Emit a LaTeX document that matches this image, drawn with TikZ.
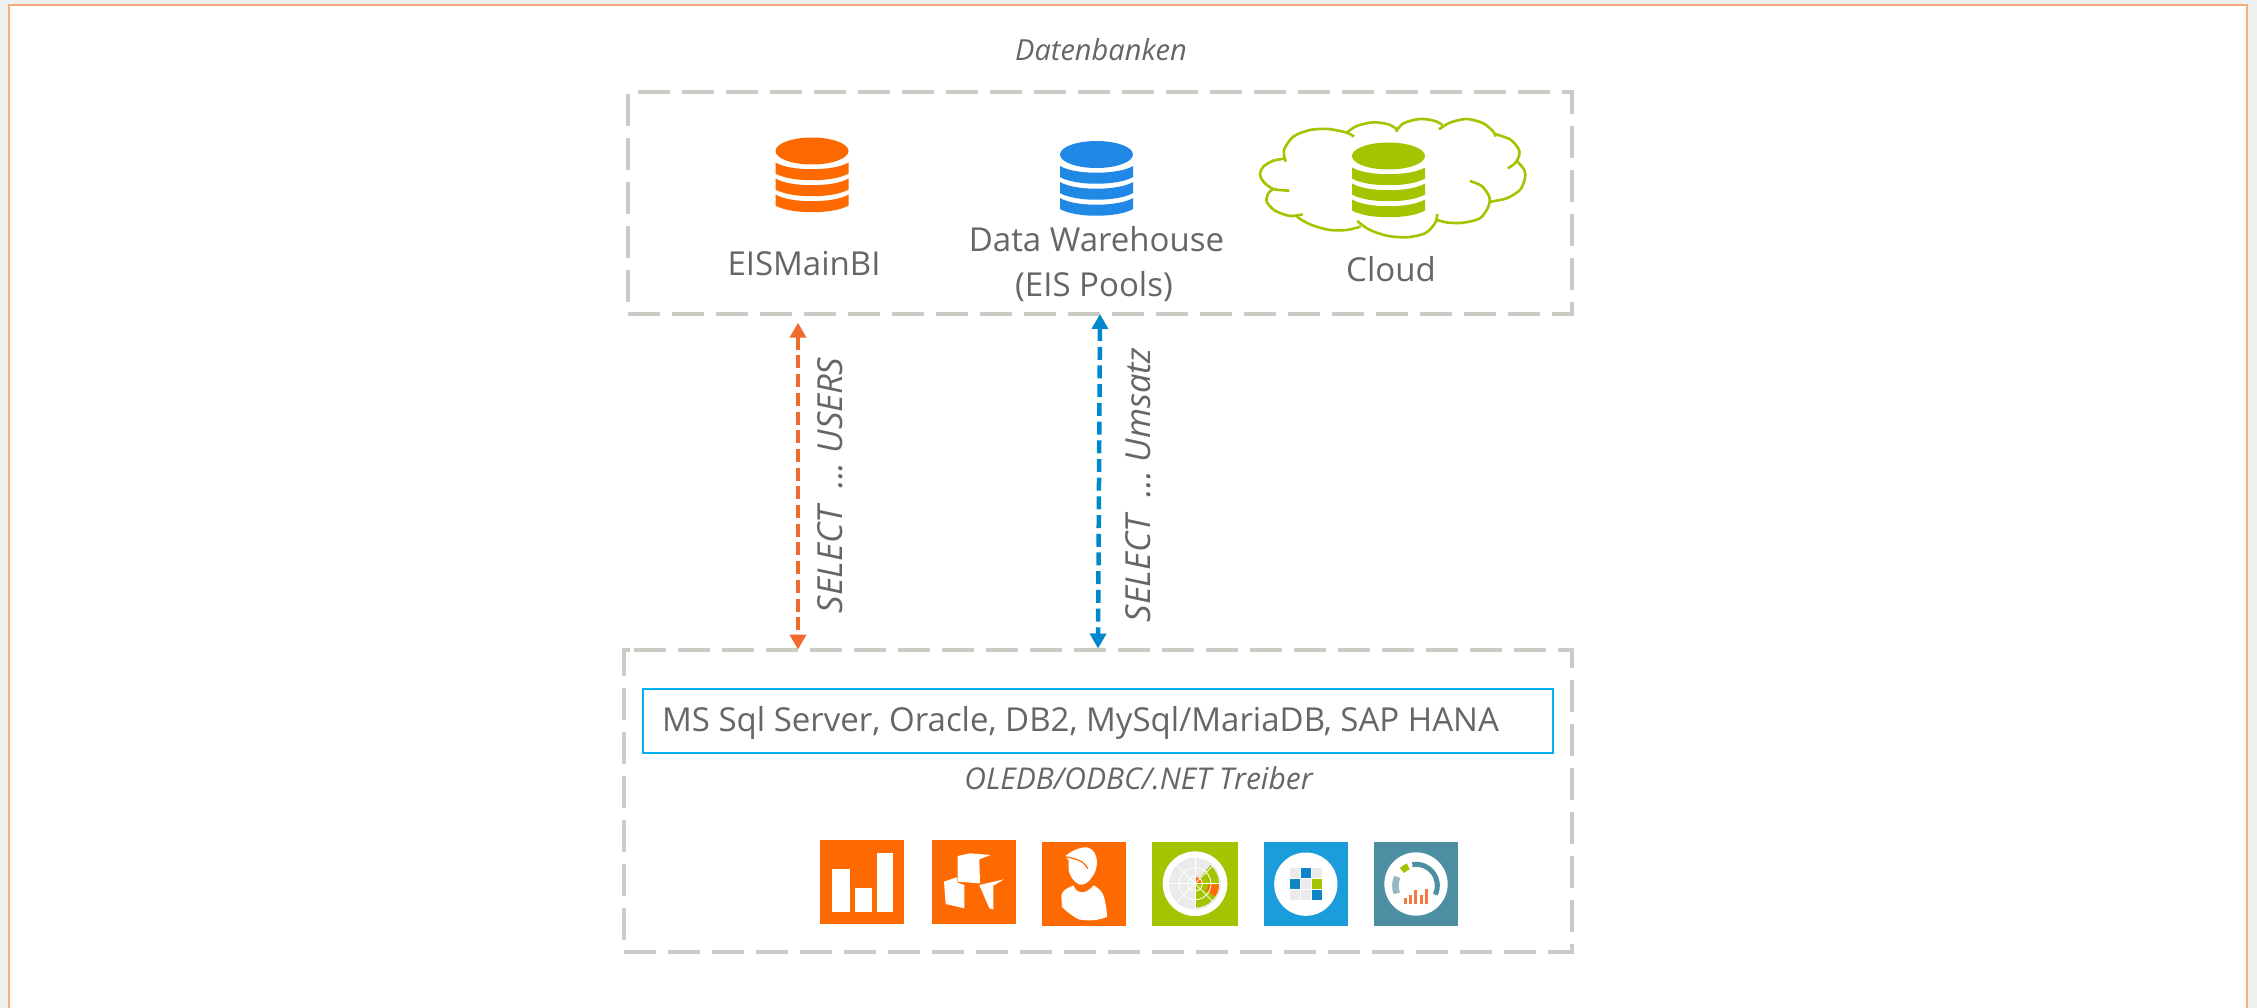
\documentclass[tikz,border=0pt]{standalone}
\usepackage{fontspec}
\setmainfont{Open Sans}
\usetikzlibrary{arrows.meta,calc}
\definecolor{pagegrey}{HTML}{EEF0F0}
\definecolor{frameor}{HTML}{F6AE7C}
\definecolor{boxgrey}{HTML}{CBCBC6}
\definecolor{txt}{HTML}{666666}
\definecolor{icor}{HTML}{FF6A00}
\definecolor{icgr}{HTML}{A4C400}
\definecolor{icbl}{HTML}{1B9DDB}
\definecolor{icte}{HTML}{4E8EA2}
\definecolor{dbbl}{HTML}{2288E6}
\definecolor{arror}{HTML}{F26B2E}
\definecolor{arrbl}{HTML}{0088CC}
\definecolor{cellbl}{HTML}{0F85C8}
\definecolor{cellgr}{HTML}{EBEBEB}
\definecolor{lteal}{HTML}{93B9C6}
\definecolor{baror}{HTML}{F47B3F}
\definecolor{hsblue}{HTML}{00B0F0}
\tikzset{
  dbzone/.style={draw=none,inner sep=0pt,outer sep=0pt},
  dashline/.style={draw=boxgrey,line width=4pt,dash pattern=on 32pt off 12pt},
  lab/.style={text=txt,inner sep=0pt,anchor=base,font=\fontsize{33}{38}\selectfont},
  note/.style={text=txt,inner sep=0pt,anchor=base,font=\fontsize{29}{33}\selectfont\itshape},
  sel/.style={text=txt,inner sep=0pt,rotate=90,font=\fontsize{34.5}{40}\selectfont\itshape},
  flow/.style={line width=4.5pt,dash pattern=on 13pt off 5.7pt,{Triangle[length=15pt,width=16pt]}-{Triangle[length=15pt,width=16pt]}},
  square/.style={inner sep=0pt,outer sep=0pt,minimum width=#1,minimum height=84pt},
  cloudline/.style={draw=icgr,line width=2.6pt},
  x=1pt,y=-1pt
}
\newcommand{\dbstack}[3]{%
  \begin{scope}[shift={(#1pt,-#2pt)},x=1pt,y=-1pt]
    \fill[#3] (36.5,13.5) ellipse [x radius=36.5,y radius=13.5];
    \foreach \a in {25,41,57}{
      \fill[#3] (0,\a) .. controls (15,\a+9) and (58,\a+9) .. (73,\a) -- (73,\a+11)
        .. controls (58,\a+20) and (15,\a+20) .. (0,\a+11) -- cycle;
    }
  \end{scope}}
\begin{document}
\begin{tikzpicture}
\useasboundingbox (0,0) rectangle (2257,1008);
\fill[pagegrey] (0,0) rectangle (2257,1008);
\fill[white] (9,5) rectangle (2247,1008);
\draw[frameor,line width=2.6pt] (9,1008) -- (9,5) -- (2247,5) -- (2247,1008);

% zones
\node[dbzone,minimum width=944pt,minimum height=222pt] (dbtop) at (1100,203) {};
\node[dbzone,minimum width=948pt,minimum height=302pt] (dbbot) at (1098,801) {};
\draw[dashline] ($(dbtop.north west)+(10,0)$) -- (dbtop.north east) -- (dbtop.south east) -- (dbtop.south west) -- (dbtop.north west) -- cycle;
\draw[dashline] ($(dbbot.north west)+(10,0)$) -- (dbbot.north east) -- (dbbot.south east) -- (dbbot.south west) -- (dbbot.north west) -- cycle;

\node[note] (ttl) at (1101,61) {Datenbanken};

% databases
\dbstack{775.5}{137.5}{icor}
\dbstack{1060}{141}{dbbl}
\dbstack{1352}{142.5}{icgr}
\node[lab] (l1) at (804,276) {EISMainBI};
\node[lab] (l2) at (1096.5,252) {Data Warehouse};
\node[lab] (l3) at (1094,297) {(EIS Pools)};
\node[lab] (l4) at (1391,282) {Cloud};

% cloud
\begin{scope}[shift={(1240pt,-90pt)},x=0.3333pt,y=-0.3333pt]
  \draw[cloudline] plot[smooth] coordinates {(137,215)(132,180)(160,140)(210,120)(265,117)(320,128)(342,140)};
  \draw[cloudline] plot[smooth] coordinates {(318,130)(350,108)(400,97)(445,103)(472,118)};
  \draw[cloudline] plot[smooth] coordinates {(468,125)(490,100)(540,87)(585,93)(607,105)};
  \draw[cloudline] plot[smooth] coordinates {(597,118)(630,98)(680,87)(730,100)(760,125)(767,140)};
  \draw[cloudline] plot[smooth] coordinates {(765,132)(810,148)(835,175)(838,195)(825,220)(803,235)};
  \draw[cloudline] plot[smooth] coordinates {(830,212)(853,240)(855,265)(840,300)(800,325)(752,335)};
  \draw[cloudline] plot[smooth] coordinates {(690,273)(725,288)(748,320)(745,350)(720,385)(670,398)(625,398)(590,390)};
  \draw[cloudline] plot[smooth] coordinates {(592,372)(585,400)(555,430)(500,442)(440,437)(390,420)(360,400)(352,392)};
  \draw[cloudline] plot[smooth] coordinates {(362,410)(320,420)(270,420)(220,407)(185,390)(165,375)};
  \draw[cloudline] plot[smooth] coordinates {(188,373)(150,378)(105,362)(80,335)(85,310)(100,297)};
  \draw[cloudline] plot[smooth] coordinates {(148,302)(100,297)(70,275)(60,252)(70,230)(100,212)(135,206)};
\end{scope}

% connectors
\coordinate (ot) at (798,322.7);
\coordinate (ob) at (798,649.5);
\coordinate (bt) at (1100,314);
\coordinate (bb) at (1098,648.5);
\draw[flow,arror] (ot) -- (ob);
\draw[flow,arrbl] (bt) -- (bb);
\node[sel] (s1) at (830,485.5) {SELECT\ \ ...\ USERS};
\node[sel] (s2) at (1138,485) {SELECT\ \ ...\ Umsatz};

% driver box
\node[draw=hsblue,line width=2pt,minimum width=910pt,minimum height=64pt,inner sep=0pt] (drv) at (1098,721) {};
\node[lab] (drvt) at (1080.5,731.7) {MS Sql Server, Oracle, DB2, MySql/MariaDB, SAP HANA};
\node[note,font=\fontsize{30}{34}\selectfont\itshape] (oled) at (1138.5,789) {OLEDB/ODBC/.NET Treiber};

% app icons
\node[square=84pt,fill=icor] (i1) at (862,882) {};
\node[square=84pt,fill=icor] (i2) at (974,882) {};
\node[square=84pt,fill=icor] (i3) at (1084,884) {};
\node[square=86pt,fill=icgr] (i4) at (1195,884) {};
\node[square=84pt,fill=icbl] (i5) at (1306,884) {};
\node[square=84pt,fill=icte] (i6) at (1416,884) {};

% icon 1: bars
\begin{scope}[shift={(780pt,-820pt)},x=0.3333pt,y=-0.3333pt]
  \fill[white] (157,147) rectangle (210,275);
  \fill[white] (225,203) rectangle (275,275);
  \fill[white] (290,98) rectangle (340,275);
  % icon 2: cubes
  \fill[white] (533,108) -- (570,100) -- (632,105) -- (598,118) -- (600,190) -- (533,185) -- cycle;
  \fill[white] (492,185) -- (530,172) -- (533,188) -- (553,195) -- (553,265) -- (497,252) -- cycle;
  \fill[white] (598,195) -- (672,178) -- (640,197) -- (640,268) -- (628,265) -- cycle;
\end{scope}

% icon 3: person
\begin{scope}[shift={(1042pt,-842pt)},x=0.3333pt,y=-0.3333pt]
  \fill[white] (70,42) .. controls (90,25) and (115,15) .. (135,16) .. controls (155,20) and (165,40) .. (165,60)
     .. controls (165,80) and (158,95) .. (150,105) .. controls (140,122) and (125,130) .. (113,128)
     .. controls (95,120) and (85,105) .. (80,85) -- (80,55) -- cycle;
  \draw[icor,line width=1.2pt] (68,44) .. controls (90,48) and (125,52) .. (137,80);
  \fill[white] (58,160) .. controls (62,145) and (75,138) .. (95,130) .. controls (100,150) and (125,165) .. (155,130)
     .. controls (172,140) and (182,150) .. (186,165) .. controls (192,190) and (195,210) .. (195,225)
     .. controls (170,235) and (140,238) .. (110,232) .. controls (90,222) and (70,205) .. (60,195) -- cycle;
\end{scope}

% icon 4: radar
\begin{scope}[shift={(1195pt,-883.7pt)},x=0.3333pt,y=0.3333pt]
  \fill[white] (0,0) circle [radius=97];
  \fill[cellgr] (0,0) circle [radius=78];
  \fill[icgr] (0,0) -- (-90:72) arc[start angle=-90,end angle=50,radius=72] -- cycle;
  \fill[icor] (-32:40) -- (-32:72) arc[start angle=-32,end angle=-2,radius=72] -- (-2:40) arc[start angle=-2,end angle=-32,radius=40] -- cycle;
  \fill[icor] (5:8) -- (5:24) arc[start angle=5,end angle=85,radius=24] -- (85:8) -- cycle;
  \foreach \r in {22,48}{\draw[white,line width=0.9pt] (0,0) circle [radius=\r];}
  \foreach \t in {0,45,90,135,180,225,270,315}{\draw[white,line width=0.7pt] (0,0) -- (\t:78);}
\end{scope}

% icon 5: cells
\begin{scope}[shift={(1264pt,-842pt)},x=0.3333pt,y=-0.3333pt]
  \fill[white] (125.5,126.5) circle [radius=95];
  \fill[cellgr] (78,78) rectangle (108,107);
  \fill[cellbl] (110,78) rectangle (142,107);
  \fill[cellgr] (144,78) rectangle (174,107);
  \fill[cellbl] (78,111) rectangle (108,141);
  \fill[cellgr] (110,111) rectangle (142,141);
  \fill[icgr] (144,111) rectangle (174,141);
  \fill[cellgr] (78,145) rectangle (108,174);
  \fill[cellgr] (110,145) rectangle (142,174);
  \fill[cellbl] (144,145) rectangle (174,174);
\end{scope}

% icon 6: gauge
\begin{scope}[shift={(1416pt,-884pt)},x=0.3333pt,y=0.3333pt]
  \fill[white] (0,0) circle [radius=95];
  \begin{scope}[shift={(0pt,-1.6pt)}]
    \draw[icte,line width=5pt] (100:64) arc[start angle=100,end angle=-25,radius=64];
    \draw[lteal,line width=6.5pt] (155:62) arc[start angle=155,end angle=202,radius=62];
    \draw[icgr,line width=6.5pt] (112:62) arc[start angle=112,end angle=133,radius=62];
  \end{scope}
  \fill[baror] (-36,-61) rectangle (-27,-43);
  \fill[baror] (-20,-61) rectangle (-11,-32);
  \fill[baror] (-5,-61) rectangle (4,-19);
  \fill[baror] (11,-61) rectangle (20,-34);
  \fill[baror] (26,-61) rectangle (35,-14);
\end{scope}
\end{tikzpicture}
\end{document}
